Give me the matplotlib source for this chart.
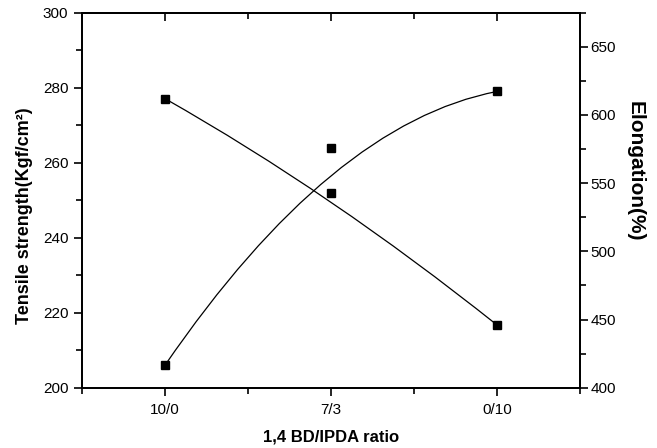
import matplotlib
matplotlib.use("Agg")
import matplotlib.pyplot as plt
from matplotlib.path import Path
from matplotlib.patches import PathPatch
from matplotlib.ticker import MultipleLocator

plt.rcParams["font.family"] = ["Liberation Sans", "DejaVu Sans"]

# ========= data =========
ratios = ["10/0", "7/3", "0/10"]
tensile = [206, 264, 279]              # Kgf/cm2, left axis
tensile_spline = [206, 270.5, 279]     # B-spline control values (curve misses middle point)
elongation = [612, 543, 446]           # %, right axis
# ========================

x = list(range(len(ratios)))

fig = plt.figure(figsize=(6.57, 4.48), dpi=100)
ax = fig.add_axes([0.1248, 0.1346, 0.758, 0.837])
ax2 = ax.twinx()


def bspline(axis, xs, ys):
    # quadratic B-spline on the 3 control points (Origin style)
    verts = list(zip(xs, ys))
    codes = [Path.MOVETO, Path.CURVE3, Path.CURVE3]
    axis.add_patch(PathPatch(Path(verts, codes), fc="none", ec="black", lw=0.9))


bspline(ax, x, tensile_spline)
ax.plot(x, tensile, ls="none", marker="s", ms=5.5, color="black")

bspline(ax2, x, elongation)
ax2.plot(x, elongation, ls="none", marker="s", ms=5.5, color="black")

# ---------- axes ----------
ax.set_xlim(-0.5, 2.5)
ax.set_xticks(x)
ax.set_xticklabels(ratios)
ax.xaxis.set_minor_locator(MultipleLocator(0.5))

ax.set_ylim(200, 300)
ax.yaxis.set_major_locator(MultipleLocator(20))
ax.yaxis.set_minor_locator(MultipleLocator(10))

ax2.set_ylim(400, 675)
ax2.yaxis.set_major_locator(MultipleLocator(50))
ax2.yaxis.set_minor_locator(MultipleLocator(25))

for a in (ax, ax2):
    for s in a.spines.values():
        s.set_linewidth(1.3)

ax.tick_params(axis="both", which="both", direction="out", width=1.2, labelsize=11)
ax.tick_params(axis="both", which="major", length=5.8)
ax.tick_params(axis="both", which="minor", length=4)
ax.tick_params(axis="x", pad=5)
ax.tick_params(axis="y", pad=4, right=False)

ax2.tick_params(axis="y", which="both", direction="out", width=1.2, labelsize=11, pad=1.5)
ax2.tick_params(axis="y", which="major", length=5.8)
ax2.tick_params(axis="y", which="minor", length=4)

top = ax.secondary_xaxis("top")
top.set_xticks(x)
top.xaxis.set_minor_locator(MultipleLocator(0.5))
top.tick_params(which="both", direction="in", width=1.2, labeltop=False)
top.tick_params(which="major", length=5.8)
top.tick_params(which="minor", length=4)
top.spines["top"].set_linewidth(1.3)

# ---------- labels ----------
ax.set_xlabel("1,4 BD/IPDA ratio", fontsize=12, fontweight="bold", va="center")
ax.xaxis.set_label_coords(0.5, -0.1315)

ax.set_ylabel("Tensile strength(Kgf/cm\u00b2)", fontsize=13, fontweight="bold", va="center")
ax.yaxis.set_label_coords(-0.1145, 0.458)

ax2.set_ylabel("Elongation(%)", fontsize=15, fontweight="bold", rotation=270, va="center")
ax2.yaxis.set_label_coords(1.11, 0.578)

fig.savefig("out.png", dpi=100)
